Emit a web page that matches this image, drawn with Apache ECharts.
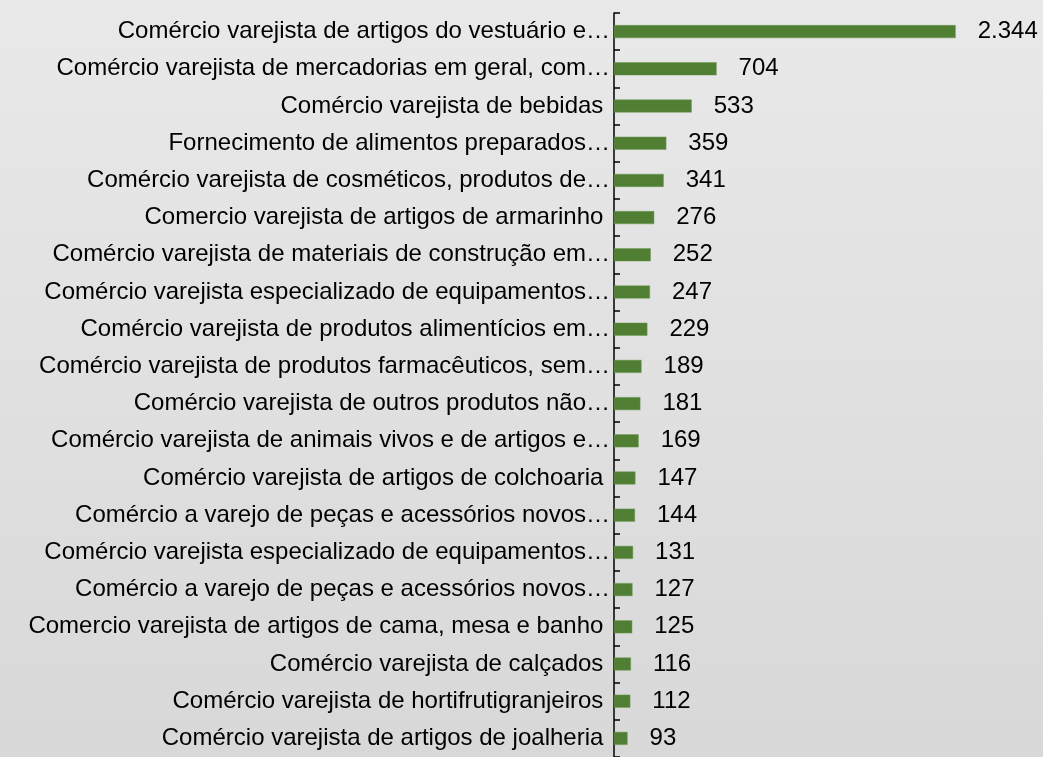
<!DOCTYPE html>
<html>
<head>
<meta charset="utf-8">
<script src="https://cdn.jsdelivr.net/npm/echarts@6/dist/echarts.min.js"></script>
<style>
  html, body { margin: 0; padding: 0; }
  #chart { width: 1043px; height: 757px; }
</style>
</head>
<body>
<div id="chart"></div>
<script>
const categories = [
  'Comércio varejista de artigos do vestuário e…',
  'Comércio varejista de mercadorias em geral, com…',
  'Comércio varejista de bebidas ',
  'Fornecimento de alimentos preparados…',
  'Comércio varejista de cosméticos, produtos de…',
  'Comercio varejista de artigos de armarinho ',
  'Comércio varejista de materiais de construção em…',
  'Comércio varejista especializado de equipamentos…',
  'Comércio varejista de produtos alimentícios em…',
  'Comércio varejista de produtos farmacêuticos, sem…',
  'Comércio varejista de outros produtos não…',
  'Comércio varejista de animais vivos e de artigos e…',
  'Comércio varejista de artigos de colchoaria ',
  'Comércio a varejo de peças e acessórios novos…',
  'Comércio varejista especializado de equipamentos…',
  'Comércio a varejo de peças e acessórios novos…',
  'Comercio varejista de artigos de cama, mesa e banho ',
  'Comércio varejista de calçados ',
  'Comércio varejista de hortifrutigranjeiros ',
  'Comércio varejista de artigos de joalheria '
]
const values = [2344, 704, 533, 359, 341, 276, 252, 247, 229, 189, 181, 169, 147, 144, 131, 127, 125, 116, 112, 93]

const option = {
  animation: false,
  backgroundColor: {
    type: 'linear', x: 0, y: 0, x2: 0, y2: 1,
    colorStops: [
      { offset: 0, color: '#e9e9e9' },
      { offset: 1, color: '#d8d8d8' }
    ]
  },
  textStyle: { fontFamily: 'Liberation Sans, Arial, sans-serif' },
  grid: { left: 614, right: 50, top: 13, bottom: -5, containLabel: false },
  xAxis: {
    type: 'value',
    min: 0,
    max: 2600,
    show: false
  },
  yAxis: {
    type: 'category',
    inverse: true,
    data: categories,
    axisLine: { show: true, lineStyle: { color: '#000', width: 1.5 } },
    axisTick: { show: true, inside: true, length: 6, lineStyle: { color: '#000', width: 1.5 } },
    axisLabel: { color: '#000', fontSize: 24, margin: 4 },
    splitLine: { show: false }
  },
  series: [
    {
      type: 'bar',
      data: values,
      barWidth: 13,
      itemStyle: { color: '#507e32', borderColor: '#6f9a55', borderWidth: 0.5 },
      label: {
        show: true,
        position: 'right',
        distance: 22,
        color: '#000',
        fontSize: 24,
        formatter(p) {
          return String(p.value).replace(/\B(?=(\d{3})+(?!\d))/g, '.')
        }
      }
    }
  ]
}

const chart = echarts.init(document.getElementById('chart'))
chart.setOption(option)
</script>
</body>
</html>
